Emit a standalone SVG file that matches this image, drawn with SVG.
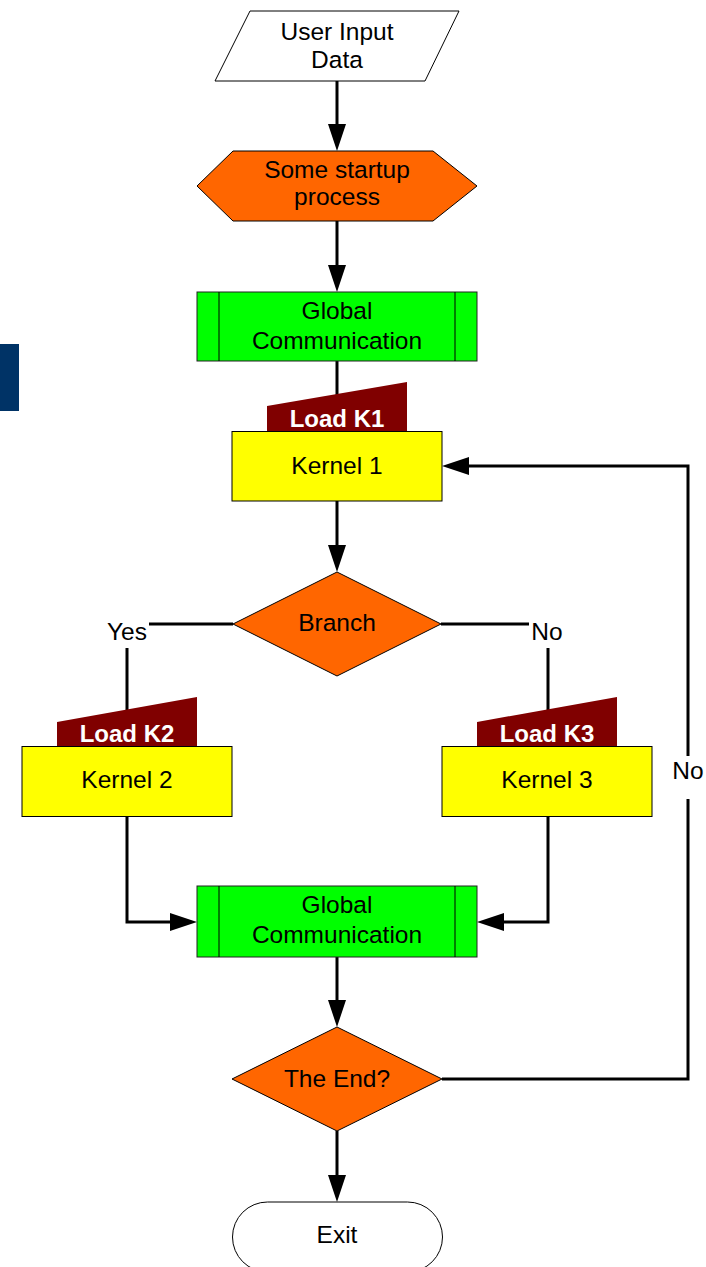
<svg xmlns="http://www.w3.org/2000/svg" width="706" height="1267" viewBox="0 0 706 1267">
  <style>
    text { font-family: "Liberation Sans", Arial, sans-serif; font-size: 24.5px; fill: #000; text-anchor: middle; }
    .load-label { font-weight: bold; font-size: 24px; fill: #fff; }
    .io { fill: #fff; stroke: #000; stroke-width: 1; }
    .prep { fill: #ff6600; stroke: #000; stroke-width: 1; }
    .decision { fill: #ff6600; stroke: #000; stroke-width: 1; }
    .comm { fill: #00ff00; stroke: #222; stroke-width: 1; }
    .kernel { fill: #ffff00; stroke: #000; stroke-width: 1; }
    .load { fill: #800000; stroke: none; }
    .terminal { fill: #fff; stroke: #000; stroke-width: 1; }
    .flow { fill: none; stroke: #000; stroke-width: 3; }
    .label-bg { fill: #fff; stroke: none; }
  </style>
  <defs>
    <marker id="arrow" markerUnits="userSpaceOnUse" viewBox="0 0 27 18" markerWidth="27" markerHeight="18" refX="0" refY="9" orient="auto">
      <path d="M0,0 L27,9 L0,18 Z" fill="#000"/>
    </marker>
  </defs>

  <!-- side tab -->
  <rect x="0" y="344" width="19" height="67" fill="#003366"/>

  <g id="connectors">
    <path class="flow" d="M337,81 V124" marker-end="url(#arrow)"/>
    <path class="flow" d="M337,221 V265" marker-end="url(#arrow)"/>
    <path class="flow" d="M337,361 V400"/>
    <path class="flow" d="M337,501 V545" marker-end="url(#arrow)"/>
    <path class="flow" d="M233,624 H127 V712"/>
    <path class="flow" d="M441,624 H548 V712"/>
    <path class="flow" d="M127,817 V922 H170" marker-end="url(#arrow)"/>
    <path class="flow" d="M548,817 V922 H504" marker-end="url(#arrow)"/>
    <path class="flow" d="M337,957 V1000" marker-end="url(#arrow)"/>
    <path class="flow" d="M337,1131 V1175" marker-end="url(#arrow)"/>
    <path class="flow" d="M442,1079 H688 V466 H469" marker-end="url(#arrow)"/>
    <!-- branch labels -->
    <rect class="label-bg" x="104" y="621" width="45" height="27"/>
    <text x="127" y="640">Yes</text>
    <rect class="label-bg" x="529" y="621" width="37" height="27"/>
    <text x="547" y="640">No</text>
    <rect class="label-bg" x="669" y="756" width="37" height="43"/>
    <text x="688" y="779">No</text>
  </g>

  <g id="user-input">
    <polygon class="io" points="250,11 459,11 425,81 215,81"/>
    <text x="337" y="40">User Input</text>
    <text x="337" y="68">Data</text>
  </g>

  <g id="startup">
    <polygon class="prep" points="197,186 233,151 433,151 477,186 433,221 233,221"/>
    <text x="337" y="178">Some startup</text>
    <text x="337" y="205">process</text>
  </g>

  <g id="global-comm-1">
    <rect class="comm" x="197" y="292" width="280" height="69"/>
    <line x1="219" y1="292" x2="219" y2="361" stroke="#000" stroke-width="1"/>
    <line x1="455" y1="292" x2="455" y2="361" stroke="#000" stroke-width="1"/>
    <text x="337" y="319">Global</text>
    <text x="337" y="349">Communication</text>
  </g>

  <g id="load-k1">
    <polygon class="load" points="267,406 407,382 407,432 267,432"/>
    <text class="load-label" x="337" y="427">Load K1</text>
  </g>

  <g id="kernel-1">
    <rect class="kernel" x="232" y="431.5" width="210" height="69.5"/>
    <text x="337" y="474">Kernel 1</text>
  </g>

  <g id="branch">
    <polygon class="decision" points="337,572 441,624 337,676 233,624"/>
    <text x="337" y="631">Branch</text>
  </g>

  <g id="load-k2">
    <polygon class="load" points="57,722 197,697 197,747 57,747"/>
    <text class="load-label" x="127" y="742">Load K2</text>
  </g>

  <g id="kernel-2">
    <rect class="kernel" x="22" y="746.5" width="210" height="70"/>
    <text x="127" y="788">Kernel 2</text>
  </g>

  <g id="load-k3">
    <polygon class="load" points="477,722 617,697 617,747 477,747"/>
    <text class="load-label" x="547" y="742">Load K3</text>
  </g>

  <g id="kernel-3">
    <rect class="kernel" x="442" y="746.5" width="210" height="70"/>
    <text x="547" y="788">Kernel 3</text>
  </g>

  <g id="global-comm-2">
    <rect class="comm" x="197" y="886" width="280" height="71"/>
    <line x1="219" y1="886" x2="219" y2="957" stroke="#000" stroke-width="1"/>
    <line x1="455" y1="886" x2="455" y2="957" stroke="#000" stroke-width="1"/>
    <text x="337" y="913">Global</text>
    <text x="337" y="943">Communication</text>
  </g>

  <g id="the-end">
    <polygon class="decision" points="337,1027 442,1079 337,1131 232,1079"/>
    <text x="337" y="1087">The End?</text>
  </g>

  <g id="exit">
    <rect class="terminal" x="232.5" y="1202" width="210" height="70" rx="35" ry="35"/>
    <text x="337" y="1243">Exit</text>
  </g>
</svg>
